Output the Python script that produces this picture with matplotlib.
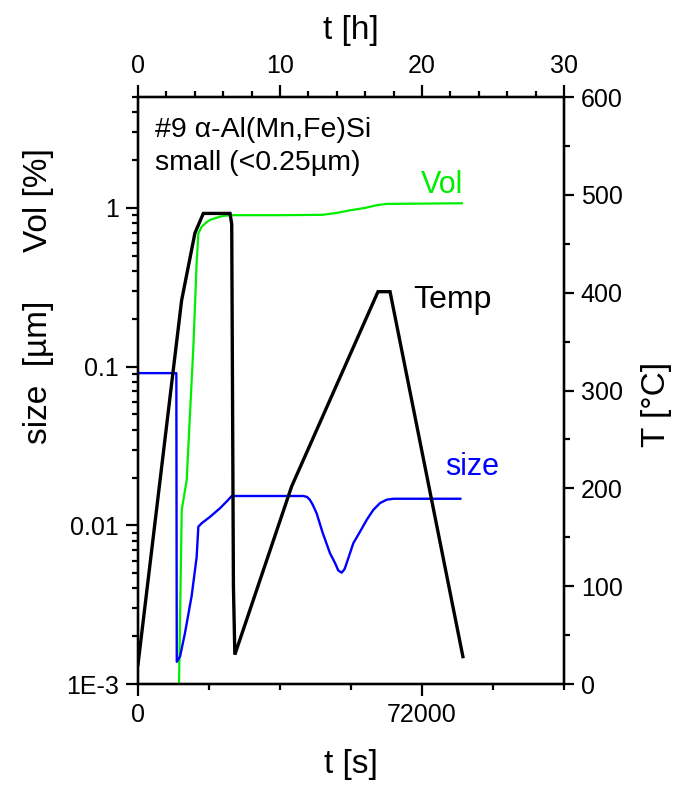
import matplotlib
matplotlib.use("Agg")
import matplotlib.pyplot as plt
from matplotlib.ticker import FixedLocator, FixedFormatter, MultipleLocator, LogLocator, NullFormatter
import numpy as np

plt.rcParams['font.family'] = ['Liberation Sans', 'DejaVu Sans']

# ---- data (time in hours) ----
temp_t_h = [0, 3.07, 4.01, 4.6, 6.48, 6.6, 6.72, 6.82, 10.82, 16.9, 17.75, 22.88]
temp_C = [20, 392, 461, 481, 481, 470, 100, 30, 202, 401, 401, 28]

vol_t_h = [2.86, 2.89, 3.08, 3.43, 3.78, 3.9, 4.13, 4.25, 4.48, 4.8, 5.07, 5.5, 5.77, 6.0, 6.48,
           10.0, 13.0, 14.0, 14.9, 16.0, 16.8, 17.5, 22.8]
vol_pct = [0.0008, 0.001, 0.0125, 0.0193, 0.082, 0.134, 0.45, 0.69, 0.76, 0.81, 0.84, 0.865, 0.88, 0.89, 0.90,
           0.90, 0.905, 0.93, 0.965, 1.0, 1.04, 1.06, 1.07]

size_t_h = [0, 2.70, 2.73, 2.96, 3.31, 3.78, 4.13, 4.25, 4.48, 5.07, 5.77, 6.3, 6.6,
            11.64, 11.9, 12.1, 12.3, 12.58, 13.0, 13.52, 13.87, 14.1, 14.34, 14.55, 14.81,
            15.16, 15.63, 16.1, 16.57, 17.04, 17.51, 17.98, 22.7]
size_um = [0.091, 0.091, 0.00138, 0.00149, 0.0021, 0.0036, 0.0063, 0.0098, 0.0103, 0.0113,
           0.0128, 0.0143, 0.0153, 0.0153, 0.0151, 0.0145, 0.0135, 0.0119, 0.0090, 0.00667,
           0.0058, 0.0052, 0.00503, 0.0053, 0.0062, 0.0077, 0.0091, 0.0108, 0.0125, 0.0138,
           0.0145, 0.0147, 0.0147]

left_ticks = [1e-3, 1e-2, 1e-1, 1]
left_ticklabels = ["1E-3", "0.01", "0.1", "1"]
bottom_ticks = [0, 72000]
top_ticks = [0, 10, 20, 30]
right_ticks = [0, 100, 200, 300, 400, 500, 600]

SEC_PER_H = 3600.0

W, H = 686, 785
fig = plt.figure(figsize=(W / 100, H / 100), dpi=100)
x0, x1, ytop, ybot = 138, 564, 97, 684
ax = fig.add_axes([x0 / W, 1 - ybot / H, (x1 - x0) / W, (ybot - ytop) / H])

lw_sp = 1.6
MAJ, MIN = 8.6, 4.5
for s in ax.spines.values():
    s.set_linewidth(lw_sp)

ax.set_yscale('log')
ax.set_ylim(1e-3, 5.0)
ax.set_xlim(0, 108000)

ax.plot(np.array(vol_t_h) * SEC_PER_H, vol_pct, color='#00ee00', lw=1.6, zorder=3)
ax.plot(np.array(size_t_h) * SEC_PER_H, size_um, color='#0000ff', lw=1.7, zorder=3)

ax.yaxis.set_major_locator(FixedLocator(left_ticks))
ax.yaxis.set_major_formatter(FixedFormatter(left_ticklabels))
ax.yaxis.set_minor_locator(LogLocator(base=10, subs=np.arange(2, 10), numticks=20))
ax.yaxis.set_minor_formatter(NullFormatter())
ax.xaxis.set_major_locator(FixedLocator(bottom_ticks))
ax.xaxis.set_minor_locator(MultipleLocator(18000))

tick_kw = dict(direction='out', width=lw_sp, labelsize=18)
ax.tick_params(which='major', length=MAJ, pad=5, **tick_kw)
ax.tick_params(which='minor', length=MIN, width=lw_sp, direction='out')

# right axis: temperature
axr = ax.twinx()
axr.set_ylim(0, 600)
axr.plot(np.array(temp_t_h) * SEC_PER_H, temp_C, color='black', lw=2.4, zorder=4,
         solid_joinstyle='miter')
axr.yaxis.set_major_locator(FixedLocator(right_ticks))
axr.yaxis.set_minor_locator(MultipleLocator(50))
axr.tick_params(which='major', length=7, pad=5, **tick_kw)
axr.tick_params(which='minor', length=MIN, width=lw_sp, direction='out')
for s in axr.spines.values():
    s.set_linewidth(lw_sp)

# top axis: hours
axt = ax.twiny()
axt.set_xlim(0, 30)
axt.xaxis.set_major_locator(FixedLocator(top_ticks))
axt.xaxis.set_minor_locator(MultipleLocator(2))
axt.tick_params(which='major', length=MAJ, pad=5, **tick_kw)
axt.tick_params(which='minor', length=MIN, width=lw_sp, direction='out')
for s in axt.spines.values():
    s.set_linewidth(lw_sp)

def fx(px):
    return px / W

def fy(py):
    return 1 - py / H

lab = 24
fig.text(fx(351), fy(764), "t [s]", ha='center', va='center', fontsize=lab)
fig.text(fx(351), fy(30), "t [h]", ha='center', va='center', fontsize=lab)
fig.text(fx(38), fy(200), "Vol [%]", ha='center', va='center', rotation=90, fontsize=lab)
fig.text(fx(38), fy(372), "size  [µm]", ha='center', va='center', rotation=90, fontsize=lab)
fig.text(fx(657), fy(404), "T [°C]", ha='center', va='center', rotation=90, fontsize=lab)

fig.text(fx(155), fy(137), "#9 α-Al(Mn,Fe)Si", ha='left', va='baseline', fontsize=20.5)
fig.text(fx(155), fy(170), "small (<0.25µm)", ha='left', va='baseline', fontsize=20.5)
fig.text(fx(421), fy(193), "Vol", ha='left', va='baseline', fontsize=22, color='#00ee00')
fig.text(fx(413), fy(308), "Temp", ha='left', va='baseline', fontsize=23, color='black')
fig.text(fx(445), fy(475), "size", ha='left', va='baseline', fontsize=22, color='#0000ff')

fig.savefig("out.png", dpi=100)
